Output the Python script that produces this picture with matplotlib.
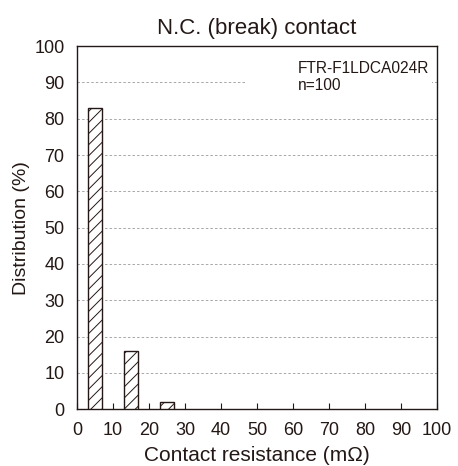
import matplotlib
matplotlib.use("Agg")
import matplotlib.pyplot as plt
from matplotlib.patches import Rectangle

# Daten
bins = [5, 15, 25]
distribution = [83, 16, 2]
xticks = list(range(0, 101, 10))
yticks = list(range(0, 101, 10))
model = "FTR-F1LDCA024R"
n_label = "n=100"

TXT = "#231815"
plt.rcParams["font.family"] = ["Liberation Sans", "DejaVu Sans"]
plt.rcParams["hatch.linewidth"] = 0.7
plt.rcParams["hatch.color"] = TXT

fig = plt.figure(figsize=(4.58, 4.66), dpi=100)
ax = fig.add_axes([0.168, 0.122, 0.786, 0.779])

# Gitterlinien (gestrichelt)
for y in yticks[1:-1]:
    ax.axhline(y, color="#9a9a9a", linestyle=(0, (3, 2.5)), linewidth=0.6, zorder=1)

ax.bar(bins, distribution, width=4, facecolor="white", edgecolor=TXT,
       hatch="///", linewidth=1.0, zorder=3)

# weisser Hintergrund hinter der Beschriftung
ax.add_patch(Rectangle((0.467, 0.835), 0.52, 0.15, transform=ax.transAxes,
                       facecolor="white", edgecolor="none", zorder=2))
ax.text(0.614, 0.958, model + "\n" + n_label, transform=ax.transAxes,
        ha="left", va="top", fontsize=11.2, color=TXT, linespacing=1.15, zorder=4)

ax.set_xlim(0, 100)
ax.set_ylim(0, 100)
ax.set_xticks(xticks)
ax.set_yticks(yticks)
ax.tick_params(direction="in", length=4, width=0.8, labelsize=13, colors=TXT)
ax.tick_params(axis="x", pad=9)
ax.tick_params(axis="y", length=0, pad=9)
for spine in ax.spines.values():
    spine.set_edgecolor(TXT)
    spine.set_linewidth(1.0)

ax.set_xlabel("Contact resistance (mΩ)", fontsize=15, color=TXT, labelpad=5)
ax.set_ylabel("Distribution (%)", fontsize=14, color=TXT, labelpad=3)
ax.set_title("N.C. (break) contact", fontsize=16, color=TXT, pad=9)

fig.savefig("out.png", dpi=100)
